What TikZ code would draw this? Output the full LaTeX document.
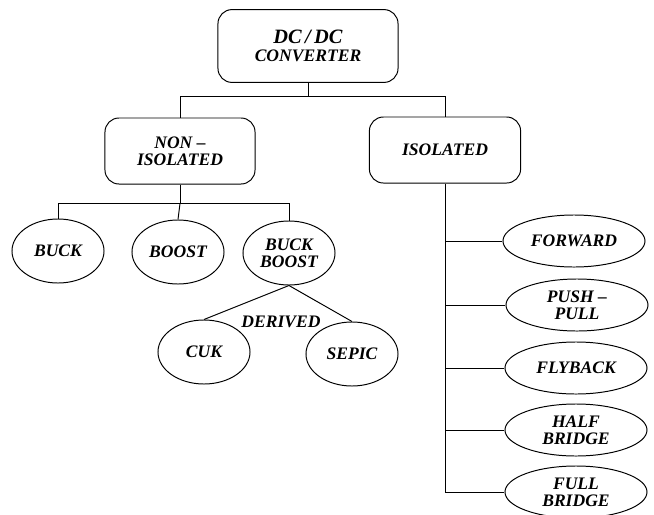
\documentclass[tikz,border=0pt]{standalone}
\usepackage{fontspec}
\setmainfont{Liberation Serif}
\usetikzlibrary{shapes.geometric}

\tikzset{
	lbl/.style={font=\fontsize{12.5}{12}\selectfont\bfseries\itshape, align=center},
	box/.style={lbl, draw, rounded corners=0.35cm, inner sep=0pt},
	leaf/.style={lbl, draw, ellipse, inner sep=0pt, minimum width=2.3cm, minimum height=1.6cm},
	wideleaf/.style={leaf, minimum width=3.55cm, minimum height=1.3cm}
}

\begin{document}
\begin{tikzpicture}[x=0.025cm, y=-0.025cm, line width=0.7pt]

		\useasboundingbox (0,0) rectangle (654,515);

		% top level
		\node[box, minimum width=4.5cm, minimum height=1.82cm] (conv) at (308,46)
			{{\fontsize{14.5}{16}\selectfont DC\,/\,DC}\\[1pt]CONVERTER};
		\node[box, minimum width=3.75cm, minimum height=1.65cm] (noniso) at (180,151) {NON \textendash\\ISOLATED};
		\node[box, minimum width=3.78cm, minimum height=1.65cm] (iso) at (445,150) {ISOLATED};

		% non-isolated
		\node[leaf] (buck)  at (58,251)  {BUCK};
		\node[leaf] (boost) at (178,252) {BOOST};
		\node[leaf] (bb)    at (289,253) {BUCK\\BOOST};
		\node[leaf] (cuk)   at (204,352) {CUK};
		\node[leaf] (sepic) at (352,354) {SEPIC};
		\node[lbl] (derived) at (281,322) {DERIVED};

		% isolated
		\node[wideleaf] (fwd)   at (574,241) {FORWARD};
		\node[wideleaf] (pp)    at (577,305) {PUSH \textendash\\PULL};
		\node[wideleaf] (fly)   at (576,368) {FLYBACK};
		\node[wideleaf] (half)  at (576,430) {HALF\\BRIDGE};
		\node[wideleaf] (full)  at (576,492) {FULL\\BRIDGE};

		\draw (conv.south) -- ++(0,14) coordinate (split);
		\draw (noniso.north) |- (split) -| (iso.north);

		\draw (noniso.south) -- ++(0,19) coordinate (nsplit);
		\draw (buck.north) |- (nsplit) -| (bb.north);
		\draw (nsplit) -- (boost.north);
		\draw (cuk.north) -- (bb.south) -- (sepic.north);

		\draw (iso.south) |- (full.west);
		\foreach \n in {fwd, pp, fly, half}
			\draw (\n.west) -- (\n.west -| iso.south);
	\end{tikzpicture}
\end{document}
